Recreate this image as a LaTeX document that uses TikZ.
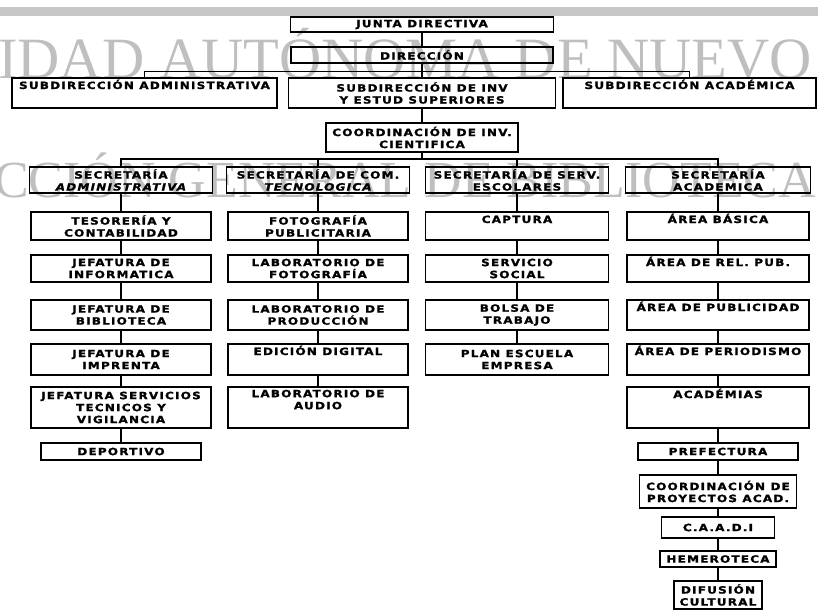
\documentclass[tikz,border=0pt]{standalone}
\usepackage{fontspec}
\usepackage{xcolor}
\newfontfamily\orgfont{DejaVu Sans Bold}[ItalicFont={DejaVu Sans Bold Oblique},FakeStretch=1.2,LetterSpace=12,FakeBold=1.5]
\newfontfamily\markfont{Liberation Serif}

\begin{document}
\begin{tikzpicture}[x=1pt, y=-1pt,
    box/.style 2 args={draw, line width=1.6pt, minimum width=#1, minimum height=#2,
        inner sep=1pt, align=center, font=\orgfont\fontsize{10}{12}\selectfont},
    topline/.style={text height=10pt, text depth=#1},
    link/.style={line width=1.4pt},
    watermark/.style={text=black!25, inner sep=0pt, anchor=base west}]

    \useasboundingbox (0,0) rectangle (818,611);

    % Scan: grey band and watermark behind the chart
    \fill[black!22] (0,7) rectangle (818,16);
    \begin{scope}
        \clip (0,0) rectangle (818,611);
        \node[watermark, font=\markfont\fontsize{58.5}{58.5}\selectfont] (mark1) at (-2,78) {IDAD AUTÓNOMA DE NUEVO};
        \node[watermark, font=\markfont\fontsize{52}{52}\selectfont] (mark2) at (-6,197) {CCIÓN GENERAL DE BIBLIOTECA};
    \end{scope}

    % Top of the chart
    \node[box={263}{15}] (junta) at (422,24.5) {JUNTA DIRECTIVA};
    \node[box={262}{16}] (dir) at (422,55) {DIRECCIÓN};
    \node[box={265}{30}, topline=18pt] (sadm) at (144.5,93) {SUBDIRECCIÓN ADMINISTRATIVA};
    \node[box={267}{30}] (sinv) at (422,93) {SUBDIRECCIÓN DE INV\\Y ESTUD SUPERIORES};
    \node[box={253}{30}, topline=18pt] (sacad) at (689.5,93) {SUBDIRECCIÓN ACADÉMICA};
    \node[box={192}{29}] (coord) at (422,137.5) {COORDINACIÓN DE INV.\\CIENTIFICA};

    % Secretarias
    \node[box={183}{26}] (sa) at (121,180) {SECRETARÍA\\{\itshape ADMINISTRATIVA}};
    \node[box={183}{26}] (sc) at (318,180) {SECRETARÍA DE COM.\\{\itshape TECNOLOGICA}};
    \node[box={183}{26}] (ss) at (517,180) {SECRETARÍA DE SERV.\\ESCOLARES};
    \node[box={185}{26}] (sac) at (718,180) {SECRETARÍA\\ACADEMICA};

    % First column
    \node[box={180}{28}] (tes) at (121,226) {TESORERÍA Y\\CONTABILIDAD};
    \node[box={180}{27}] (jinf) at (121,268.5) {JEFATURA DE\\INFORMATICA};
    \node[box={180}{30}] (jbib) at (121,315) {JEFATURA DE\\BIBLIOTECA};
    \node[box={180}{31}] (jimp) at (121,359.5) {JEFATURA DE\\IMPRENTA};
    \node[box={180}{41}] (jstv) at (121,407.5) {JEFATURA SERVICIOS\\TECNICOS Y\\VIGILANCIA};
    \node[box={160}{17}] (dep) at (121,451.5) {DEPORTIVO};

    % Second column
    \node[box={180}{28}] (fpub) at (318,226) {FOTOGRAFÍA\\PUBLICITARIA};
    \node[box={180}{27}] (lfot) at (318,268.5) {LABORATORIO DE\\FOTOGRAFÍA};
    \node[box={180}{30}] (lprod) at (318,315) {LABORATORIO DE\\PRODUCCIÓN};
    \node[box={180}{31}, topline=19pt] (edig) at (318,359.5) {EDICIÓN DIGITAL};
    \node[box={180}{41}, text depth=16pt] (laud) at (318,407.5) {LABORATORIO DE\\AUDIO};

    % Third column
    \node[box={183}{28}, topline=16pt] (capt) at (517,226) {CAPTURA};
    \node[box={183}{27}] (ssoc) at (517,268.5) {SERVICIO\\SOCIAL};
    \node[box={183}{30}] (bolsa) at (517,315) {BOLSA DE\\TRABAJO};
    \node[box={183}{31}] (plan) at (517,359.5) {PLAN ESCUELA\\EMPRESA};

    % Fourth column
    \node[box={182}{28}, topline=16pt] (abas) at (718,226) {ÁREA BÁSICA};
    \node[box={182}{27}, topline=15pt] (arel) at (718,268.5) {ÁREA DE REL. PUB.};
    \node[box={182}{30}, topline=18pt] (apub) at (718,315) {ÁREA DE PUBLICIDAD};
    \node[box={182}{31}, topline=19pt] (aper) at (718,359.5) {ÁREA DE PERIODISMO};
    \node[box={182}{41}, topline=29pt] (acad) at (718,407.5) {ACADÉMIAS};
    \node[box={160}{17}] (pref) at (718,451.5) {PREFECTURA};
    \node[box={157}{33}] (cproy) at (718,491.5) {COORDINACIÓN DE\\PROYECTOS ACAD.};
    \node[box={113}{21}] (caadi) at (718,527.5) {C.A.A.D.I};
    \node[box={116}{16}] (hemer) at (718,559) {HEMEROTECA};
    \node[box={88}{28}] (difus) at (718,595) {DIFUSIÓN\\CULTURAL};

    % Connectors
    \coordinate (bus) at (0,159);
    \draw[link] (junta) -- (dir);
    \draw[link] (dir) -- (sinv);
    \draw[link] (sadm.north) -- ++(0,-6) -| (sacad.north);
    \draw[link] (sinv) -- (coord);
    \draw[link] (coord) -- (coord |- bus);
    \draw[link] (sa.north) -- (sa.north |- bus) -| (sac.north);
    \draw[link] (sc) -- (sc |- bus);
    \draw[link] (ss) -- (ss |- bus);
    \draw[link] (sa) -- (tes) -- (jinf) -- (jbib) -- (jimp) -- (jstv) -- (dep);
    \draw[link] (sc) -- (fpub) -- (lfot) -- (lprod) -- (edig) -- (laud);
    \draw[link] (ss) -- (capt) -- (ssoc) -- (bolsa) -- (plan);
    \draw[link] (sac) -- (abas) -- (arel) -- (apub) -- (aper) -- (acad) -- (pref)
        -- (cproy) -- (caadi) -- (hemer) -- (difus);

\end{tikzpicture}
\end{document}
